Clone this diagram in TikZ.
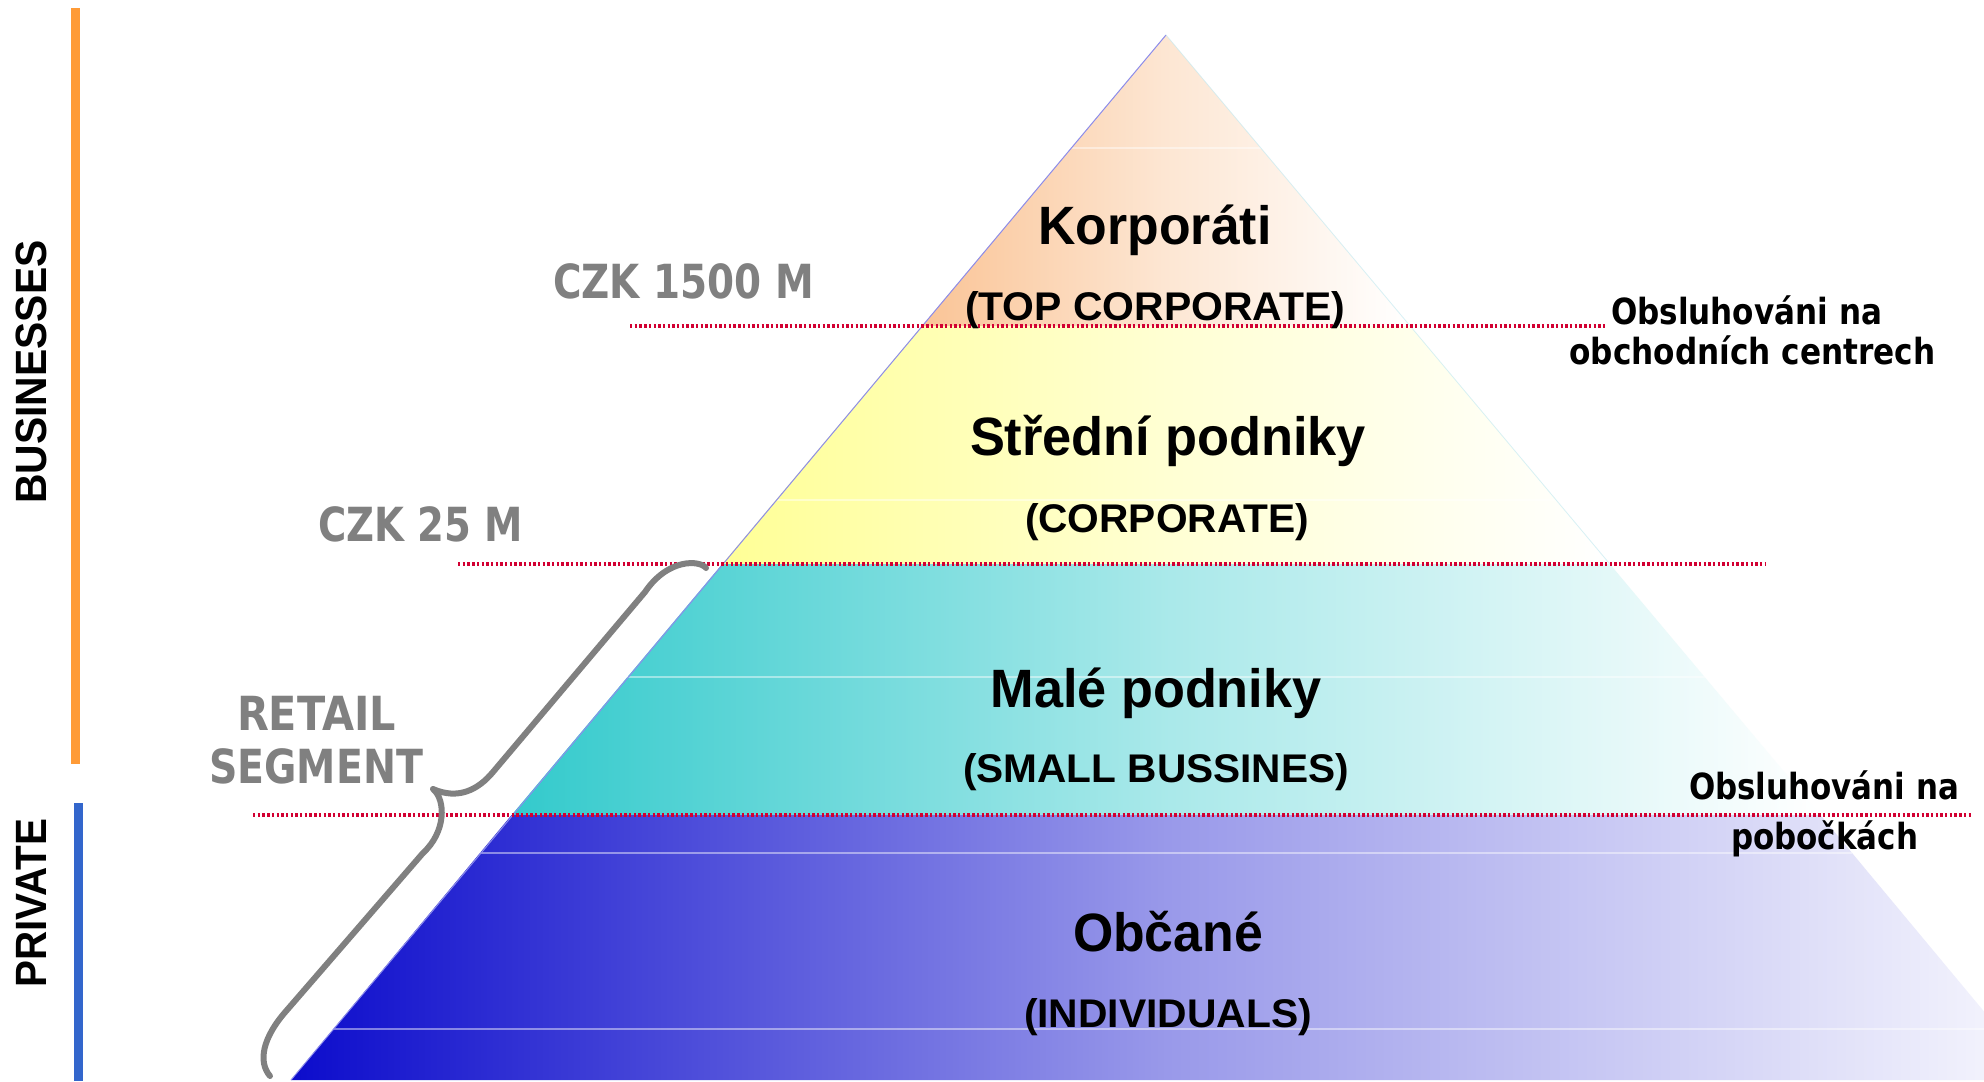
\documentclass[tikz,border=0pt]{standalone}
\usepackage{fontspec}
\usepackage{graphicx}
\setmainfont{Liberation Sans}
\newfontfamily\tah{DejaVu Sans}
\newlength\px \setlength\px{0.5pt}
\newcommand\fw[2]{\resizebox{#1\px}{\height}{#2}}
\definecolor{peachc}{RGB}{250,196,150}
\definecolor{yellowc}{RGB}{255,255,150}
\definecolor{tealc}{RGB}{51,202,204}
\definecolor{bluec}{RGB}{12,12,204}
\definecolor{redc}{RGB}{210,0,50}
\definecolor{grayc}{RGB}{128,128,128}
\definecolor{orangebar}{RGB}{255,155,55}
\definecolor{bluebar}{RGB}{51,102,204}
\tikzset{
  lbl/.style={inner sep=0pt, anchor=base, text=black},
  bigfont/.style={font=\fontsize{27pt}{32pt}\selectfont\bfseries},
  subfont/.style={font=\fontsize{20pt}{24pt}\selectfont\bfseries},
  grayfont/.style={inner sep=0pt, anchor=base, text=grayc, font=\tah\fontsize{23.5pt}{28pt}\selectfont\bfseries},
  notefont/.style={inner sep=0pt, anchor=base, text=black, font=\tah\fontsize{18pt}{22pt}\selectfont\bfseries},
  sidefont/.style={inner sep=0pt, anchor=center, rotate=90, font=\fontsize{21.9pt}{26pt}\selectfont\bfseries},
  dotline/.style={draw=redc, line width=1.8pt, dash pattern=on 1.2pt off 1.15pt},
  faint/.style={draw=white, line width=0.6pt, opacity=0.45},
  bracestyle/.style={draw=grayc, line width=3pt, line cap=round, line join=round},
}
\begin{document}
\begin{tikzpicture}[x=0.5pt, y=-0.5pt]
\useasboundingbox (0,0) rectangle (1984,1081);
\clip (0,0) rectangle (1984,1081);
\fill[white] (0,0) rectangle (1984,1081);

% pyramid layers
\shade[left color=peachc, right color=white, middle color=peachc!42!white] (1166,35) -- (1410.1,326) -- (921.9,326) -- cycle;
\shade[left color=yellowc, right color=white, middle color=yellowc!42!white] (921.9,326) -- (1410.1,326) -- (1609.8,564) -- (722.2,564) -- cycle;
\shade[left color=tealc, right color=white, middle color=tealc!42!white] (722.2,564) -- (1609.8,564) -- (1820.4,815) -- (511.6,815) -- cycle;
\shade[left color=bluec, right color=white!97!bluec, middle color=bluec!42!white] (511.6,815) -- (1820.4,815) -- (2041,1080) -- (291,1080) -- cycle;

% faint bands
\draw[faint] (1071.2,148) -- (1260.8,148);
\draw[faint] (775.9,500) -- (1556.1,500);
\draw[faint] (627.4,677) -- (1704.6,677);
\draw[faint] (479.7,853) -- (1852.3,853);
\draw[faint] (332,1029) -- (2000,1029);

% edges
\draw[draw={rgb,255:red,140;green,140;blue,235}, line width=0.5pt] (1166,35) -- (291,1080);
\draw[draw={rgb,255:red,190;green,232;blue,240}, line width=0.4pt, opacity=0.6] (1166,35) -- (1609.8,564);

% dotted threshold lines
\coordinate (d1a) at (630,326);  \coordinate (d1b) at (1607,326);
\coordinate (d2a) at (458,564);  \coordinate (d2b) at (1766,564);
\coordinate (d3a) at (253,815);  \coordinate (d3b) at (1972,815);
\draw[dotline] (d1a) -- (d1b);
\draw[dotline] (d2a) -- (d2b);
\draw[dotline] (d3a) -- (d3b);

% side bars
\fill[orangebar] (71,8) rectangle (80,764);
\fill[bluebar] (74,803) rectangle (83,1081);
\node[sidefont] (bus) at (31,372) {\fw{263}{BUSINESSES}};
\node[sidefont] (priv) at (31,903) {\fw{169}{PRIVATE}};

% layer labels
\node[lbl, bigfont] (korp) at (1155,244) {\fw{233}{Korporáti}};
\node[lbl, subfont] (topc) at (1155,320) {\fw{380}{(TOP CORPORATE)}};
\node[lbl, bigfont] (stred) at (1168,455) {\fw{396}{Střední podniky}};
\node[lbl, subfont] (corp) at (1167,532) {\fw{284}{(CORPORATE)}};
\node[lbl, bigfont] (male) at (1156,707) {\fw{331}{Malé podniky}};
\node[lbl, subfont] (small) at (1156,782) {\fw{386}{(SMALL BUSSINES)}};
\node[lbl, bigfont] (obc) at (1168,951) {\fw{190}{Občané}};
\node[lbl, subfont] (indiv) at (1168,1027) {\fw{288}{(INDIVIDUALS)}};

% gray thresholds
\node[grayfont] (czk1500) at (683.5,298) {\fw{261}{CZK 1500 M}};
\node[grayfont] (czk25) at (420.5,541) {\fw{205}{CZK 25 M}};
\node[grayfont] (retail) at (316.5,730) {\fw{159}{RETAIL}};
\node[grayfont] (segment) at (316,783) {\fw{214}{SEGMENT}};

% notes
\node[notefont] (n1a) at (1746.5,324) {\fw{271}{Obsluhováni na}};
\node[notefont] (n1b) at (1752.5,364) {\fw{366}{obchodních centrech}};
\node[notefont] (n2a) at (1824,799) {\fw{270}{Obsluhováni na}};
\node[notefont] (n2b) at (1824.5,849) {\fw{187}{pobočkách}};

% brace
\draw[bracestyle] (706,568) .. controls (700,560) and (668,558) .. (645,592)
  -- (493,772)
  .. controls (478,790) and (458,800) .. (433,789)
  .. controls (446,800) and (446,832) .. (423,853)
  -- (287,1010)
  .. controls (262,1038) and (258,1062) .. (270,1076);
\end{tikzpicture}
\end{document}
